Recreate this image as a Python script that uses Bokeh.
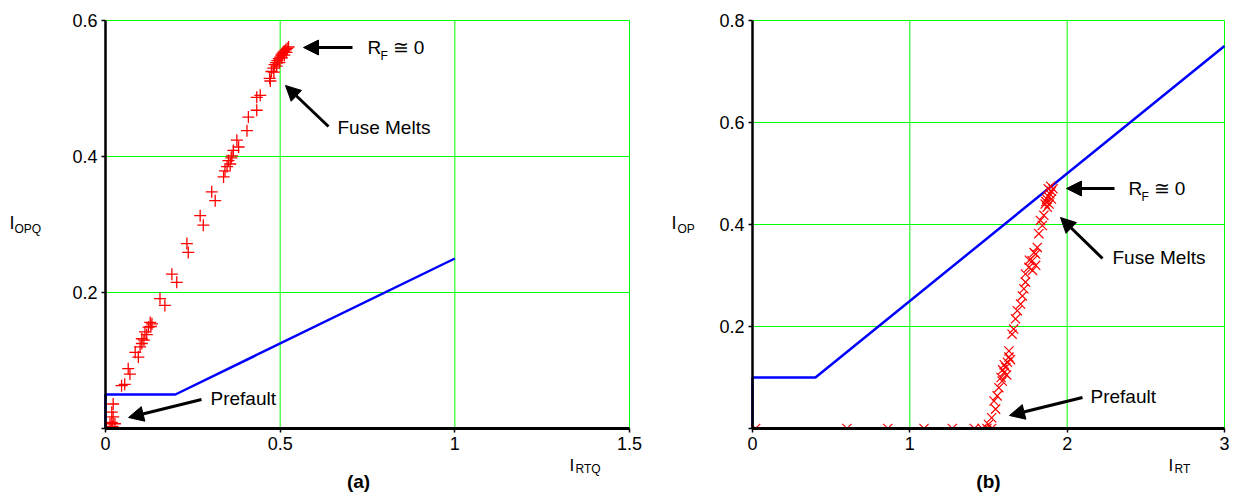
from bokeh.plotting import figure
from bokeh.models import (Range1d, FixedTicker, Label, Arrow, NormalHead,
                          CustomJSTickFormatter, BoxAnnotation)
from bokeh.layouts import row
from bokeh.embed import file_html
from bokeh.resources import INLINE

# ---------------- data ----------------
# (a) characteristic
char_a_x = [0, 0, 0.2, 1.0]
char_a_y = [0, 0.05, 0.05, 0.25]
# (a) trajectory points (I_RTQ, I_OPQ)
traj_a_x = [0.470, 0.475, 0.480, 0.484, 0.488, 0.492, 0.496, 0.500, 0.503, 0.506, 0.509, 0.512,
            0.516, 0.520, 0.524, 0.490, 0.498, 0.505, 0.512, 0.518, 0.482, 0.472,
            0.443, 0.433, 0.433, 0.409, 0.405, 0.376, 0.381, 0.366, 0.362, 0.352, 0.357, 0.360,
            0.348, 0.342, 0.338, 0.304, 0.314, 0.271, 0.280, 0.233, 0.237, 0.190, 0.204, 0.156,
            0.170, 0.128, 0.133, 0.123, 0.130, 0.113, 0.118, 0.104, 0.110, 0.104, 0.099, 0.085,
            0.094, 0.065, 0.070, 0.046, 0.055, 0.022, 0.018, 0.022, 0.018, 0.013, 0.027, 0.020]
traj_a_y = [0.515, 0.525, 0.530, 0.535, 0.538, 0.541, 0.544, 0.546, 0.549, 0.551, 0.553, 0.555,
            0.557, 0.559, 0.561, 0.533, 0.538, 0.545, 0.549, 0.553, 0.524, 0.511,
            0.490, 0.487, 0.468, 0.458, 0.438, 0.424, 0.414, 0.409, 0.401, 0.394, 0.389, 0.398,
            0.385, 0.379, 0.370, 0.348, 0.335, 0.313, 0.299, 0.272, 0.259, 0.227, 0.215, 0.191,
            0.181, 0.156, 0.154, 0.149, 0.150, 0.142, 0.138, 0.132, 0.130, 0.125, 0.120, 0.112,
            0.105, 0.088, 0.080, 0.063, 0.065, 0.036, 0.024, 0.017, 0.009, 0.007, 0.007, 0.003]

# (b) characteristic
char_b_x = [0, 0, 0.4, 3.0]
char_b_y = [0, 0.1, 0.1, 0.75]
# (b) trajectory points (I_RT, I_OP)
traj_b_x = [0.02, 0.60, 0.86, 1.09, 1.27, 1.41, 1.46, 1.49, 1.52,
            1.50, 1.52, 1.545, 1.535, 1.555, 1.566, 1.587, 1.58, 1.60, 1.61, 1.59, 1.62, 1.63,
            1.60, 1.615, 1.64, 1.63, 1.65, 1.66, 1.672, 1.683, 1.704, 1.715, 1.725, 1.735,
            1.735, 1.757, 1.778, 1.80, 1.81, 1.76, 1.79, 1.78, 1.80, 1.82, 1.842, 1.83, 1.852,
            1.873, 1.86, 1.87, 1.88, 1.89, 1.90, 1.88, 1.895, 1.91, 1.865, 1.885, 1.90]
traj_b_y = [0, 0, 0, 0, 0, 0, 0, 0, 0,
            0.008, 0.021, 0.038, 0.054, 0.064, 0.080, 0.093, 0.10, 0.11, 0.12, 0.115, 0.13, 0.14,
            0.125, 0.105, 0.135, 0.152, 0.185, 0.195, 0.215, 0.231, 0.244, 0.26, 0.274, 0.287,
            0.303, 0.316, 0.329, 0.342, 0.355, 0.33, 0.345, 0.31, 0.32, 0.382, 0.398, 0.408, 0.418,
            0.434, 0.44, 0.45, 0.455, 0.46, 0.465, 0.47, 0.475, 0.47, 0.445, 0.44, 0.45]

xticks_a = [0, 0.5, 1.0, 1.5]
yticks_a = [0, 0.2, 0.4, 0.6]
xticks_b = [0, 1, 2, 3]
yticks_b = [0, 0.2, 0.4, 0.6, 0.8]

FONT = "Liberation Sans"
GRID = "#00ff00"
H = 495           # figure height
Y0_PX = 428       # pixel row of y = 0


def make_fig(width, x0_px, xpp, ypp, xmax, ymax, xt, yt):
    """x0_px: pixel column of x=0 inside figure; xpp/ypp: pixels per data unit."""
    xr = Range1d(-x0_px / xpp, (width - x0_px) / xpp)
    yr = Range1d(-(H - Y0_PX) / ypp, Y0_PX / ypp)
    p = figure(width=width, height=H, x_range=xr, y_range=yr,
               output_backend="svg", toolbar_location=None, min_border=0)
    p.outline_line_color = None
    p.background_fill_color = "white"
    p.border_fill_color = "white"
    p.xgrid.visible = False
    p.ygrid.visible = False
    # bounded grid lines drawn from the tick arrays
    gx = [t for t in xt if t > 0]
    gy = [t for t in yt if t > 0]
    p.segment(x0=gx, y0=[0] * len(gx), x1=gx, y1=[ymax] * len(gx), line_color=GRID, line_width=1)
    p.segment(x0=[0] * len(gy), y0=gy, x1=[xmax] * len(gy), y1=gy, line_color=GRID, line_width=1)

    fx = CustomJSTickFormatter(code="return String(Math.round(tick*10)/10);")
    fy = CustomJSTickFormatter(code="return tick == 0 ? '' : String(Math.round(tick*10)/10);")
    for ax, t, f, b in ((p.xaxis, xt, fx, (0, xmax)), (p.yaxis, yt, fy, (0, ymax))):
        ax.fixed_location = 0
        ax.bounds = b
        ax.ticker = FixedTicker(ticks=t)
        ax.formatter = f
        ax.axis_line_color = "black"
        ax.major_tick_line_color = "black"
        ax.major_tick_line_width = 1.5
        ax.major_tick_out = 4
        ax.major_tick_in = 0
        ax.minor_tick_line_color = None
        ax.major_label_text_font = FONT
        ax.major_label_text_font_size = "18px"
        ax.major_label_text_color = "black"
        ax.major_label_standoff = 4
    p.xaxis.axis_line_width = 3
    p.yaxis.axis_line_width = 2.5
    return p


def txt(p, x, y, s, size=19, style="normal", align="left"):
    p.add_layout(Label(x=x, y=y, text=s, text_font=FONT, text_font_size=f"{size}px",
                       text_font_style=style, text_baseline="middle", text_align=align,
                       text_color="black"))


def arrow(p, x0, y0, x1, y1):
    p.add_layout(Arrow(end=NormalHead(size=15, fill_color="black", line_color="black"),
                       x_start=x0, y_start=y0, x_end=x1, y_end=y1,
                       line_width=3, line_color="black"))


def mask_below(p):
    # hide the part of the markers that falls below the x axis, like the original
    p.add_layout(BoxAnnotation(top=0, fill_color="white", fill_alpha=1, line_color=None,
                               level="glyph"))


# ---------------- (a) ----------------
WA, XA0, XPPA, YPPA = 644, 105, 349.33, 680
pa = make_fig(WA, XA0, XPPA, YPPA, 1.5, 0.6, xticks_a, yticks_a)
pa.line(char_a_x, char_a_y, line_color="#0000ff", line_width=2.5)
pa.scatter(traj_a_x, traj_a_y, marker="cross", size=12, line_color="red", line_width=1.3)
mask_below(pa)


def LA(px, py):
    return (px - XA0) / XPPA, (Y0_PX - py) / YPPA


def put_a(px, py, s, **kw):
    x, y = LA(px, py)
    txt(pa, x, y, s, **kw)


def arr_a(a, b, c, d):
    x0, y0 = LA(a, b)
    x1, y1 = LA(c, d)
    arrow(pa, x0, y0, x1, y1)


put_a(367, 47, "R")
put_a(380, 55, "F", size=12)
put_a(392, 47, "\u2245 0")
arr_a(352, 47, 303, 47)
put_a(337, 127, "Fuse Melts")
arr_a(328, 126, 285, 85)
put_a(210, 398, "Prefault")
arr_a(201, 399, 128, 417)
put_a(9, 222, "I", size=18)
put_a(14, 228, "OPQ", size=12)
put_a(569, 465, "I", size=17)
put_a(575, 468, "RTQ", size=12)
put_a(358, 481, "(a)", size=19, style="bold", align="center")

# ---------------- (b) ----------------
OFF_B = WA
WB, XB0, XPPB, YPPB = 588, 752 - OFF_B, 157.33, 510
pb = make_fig(WB, XB0, XPPB, YPPB, 3, 0.8, xticks_b, yticks_b)
pb.line(char_b_x, char_b_y, line_color="#0000ff", line_width=2.5)
pb.scatter(traj_b_x, traj_b_y, marker="x", size=13, line_color="red", line_width=1.2)
mask_below(pb)


def LB(px, py):
    return (px - OFF_B - XB0) / XPPB, (Y0_PX - py) / YPPB


def put_b(px, py, s, **kw):
    x, y = LB(px, py)
    txt(pb, x, y, s, **kw)


def arr_b(a, b, c, d):
    x0, y0 = LB(a, b)
    x1, y1 = LB(c, d)
    arrow(pb, x0, y0, x1, y1)


put_b(1128, 188, "R")
put_b(1141, 196, "F", size=12)
put_b(1153, 188, "\u2245 0")
arr_b(1114, 188, 1066, 188)
put_b(1112, 257, "Fuse Melts")
arr_b(1102, 258, 1060, 217)
put_b(1090, 396, "Prefault")
arr_b(1082, 397, 1009, 415)
put_b(671, 222, "I", size=18)
put_b(677, 228, "OP", size=12)
put_b(1168, 465, "I", size=17)
put_b(1174, 468, "RT", size=12)
put_b(988, 481, "(b)", size=19, style="bold", align="center")

layout = row(pa, pb)
open("out.html", "w").write(file_html(layout, INLINE))
